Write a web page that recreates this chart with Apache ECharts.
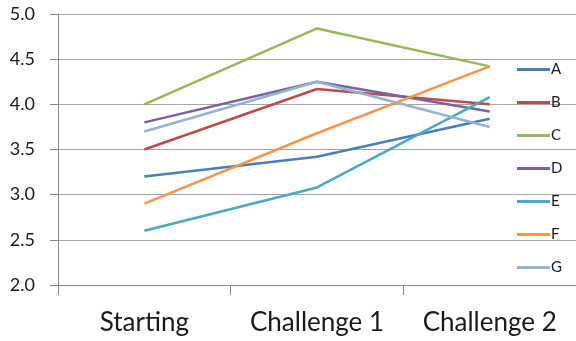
<!DOCTYPE html>
<html>
<head>
<meta charset="utf-8">
<script src="https://cdn.jsdelivr.net/npm/echarts@6/dist/echarts.min.js"></script>
<style>
  html, body { margin: 0; padding: 0; background: #ffffff; }
  #chart { width: 576px; height: 341px; }
</style>
</head>
<body>
<div id="chart"></div>
<script>
// Stages along the x axis
const stages = ['Starting', 'Challenge 1', 'Challenge 2'];

// Scores per group at each stage
const seriesA = [3.2, 3.42, 3.84];
const seriesB = [3.5, 4.17, 4.0];
const seriesC = [4.0, 4.84, 4.42];
const seriesD = [3.8, 4.25, 3.92];
const seriesE = [2.6, 3.08, 4.08];
const seriesF = [2.9, 3.68, 4.42];
const seriesG = [3.7, 4.25, 3.75];

const groupNames = ['A', 'B', 'C', 'D', 'E', 'F', 'G'];
const groupValues = [seriesA, seriesB, seriesC, seriesD, seriesE, seriesF, seriesG];
const groupColors = ['#4A7EBB', '#BE4B48', '#98B954', '#7D60A0', '#46AAC5', '#F79646', '#95B3D7'];

// Y axis ticks
const yMin = 2.0;
const yMax = 5.0;
const yStep = 0.5;

const fontFamily = 'Lato, "Open Sans", sans-serif';

const chart = echarts.init(document.getElementById('chart'), null, { renderer: 'canvas' });

chart.setOption({
  animation: false,
  backgroundColor: '#ffffff',
  color: groupColors,
  grid: { left: 58, top: 14, width: 522, height: 271, containLabel: false },
  xAxis: {
    type: 'category',
    data: stages,
    boundaryGap: true,
    axisLine: { show: true, lineStyle: { color: '#868686', width: 1 } },
    axisTick: { show: true, length: 10, interval: 0, alignWithLabel: false, lineStyle: { color: '#868686' } },
    axisLabel: {
      color: '#1a1a1a', fontSize: 26, fontFamily: fontFamily, margin: 25,
      interval: 0, hideOverlap: false
    },
    splitLine: { show: false }
  },
  yAxis: {
    type: 'value',
    min: yMin,
    max: yMax,
    interval: yStep,
    axisLine: { show: true, lineStyle: { color: '#868686', width: 1 } },
    axisTick: { show: true, length: 8, lineStyle: { color: '#868686' } },
    axisLabel: {
      color: '#1a1a1a', fontSize: 18, fontFamily: fontFamily, margin: 23,
      formatter: v => v.toFixed(1)
    },
    splitLine: { show: true, lineStyle: { color: '#A6A6A6', width: 1 } }
  },
  legend: {
    orient: 'vertical',
    left: 517,
    top: 62,
    padding: 0,
    icon: 'rect',
    itemWidth: 33,
    itemHeight: 3,
    itemGap: 18,
    textStyle: { color: '#1a1a1a', fontSize: 15, fontFamily: fontFamily, padding: [0, 0, 0, -4] },
    data: groupNames
  },
  series: groupNames.map((name, i) => ({
    name: name,
    type: 'line',
    data: groupValues[i],
    symbol: 'none',
    lineStyle: { width: 2.5, color: groupColors[i] },
    itemStyle: { color: groupColors[i] }
  }))
});
</script>
</body>
</html>
